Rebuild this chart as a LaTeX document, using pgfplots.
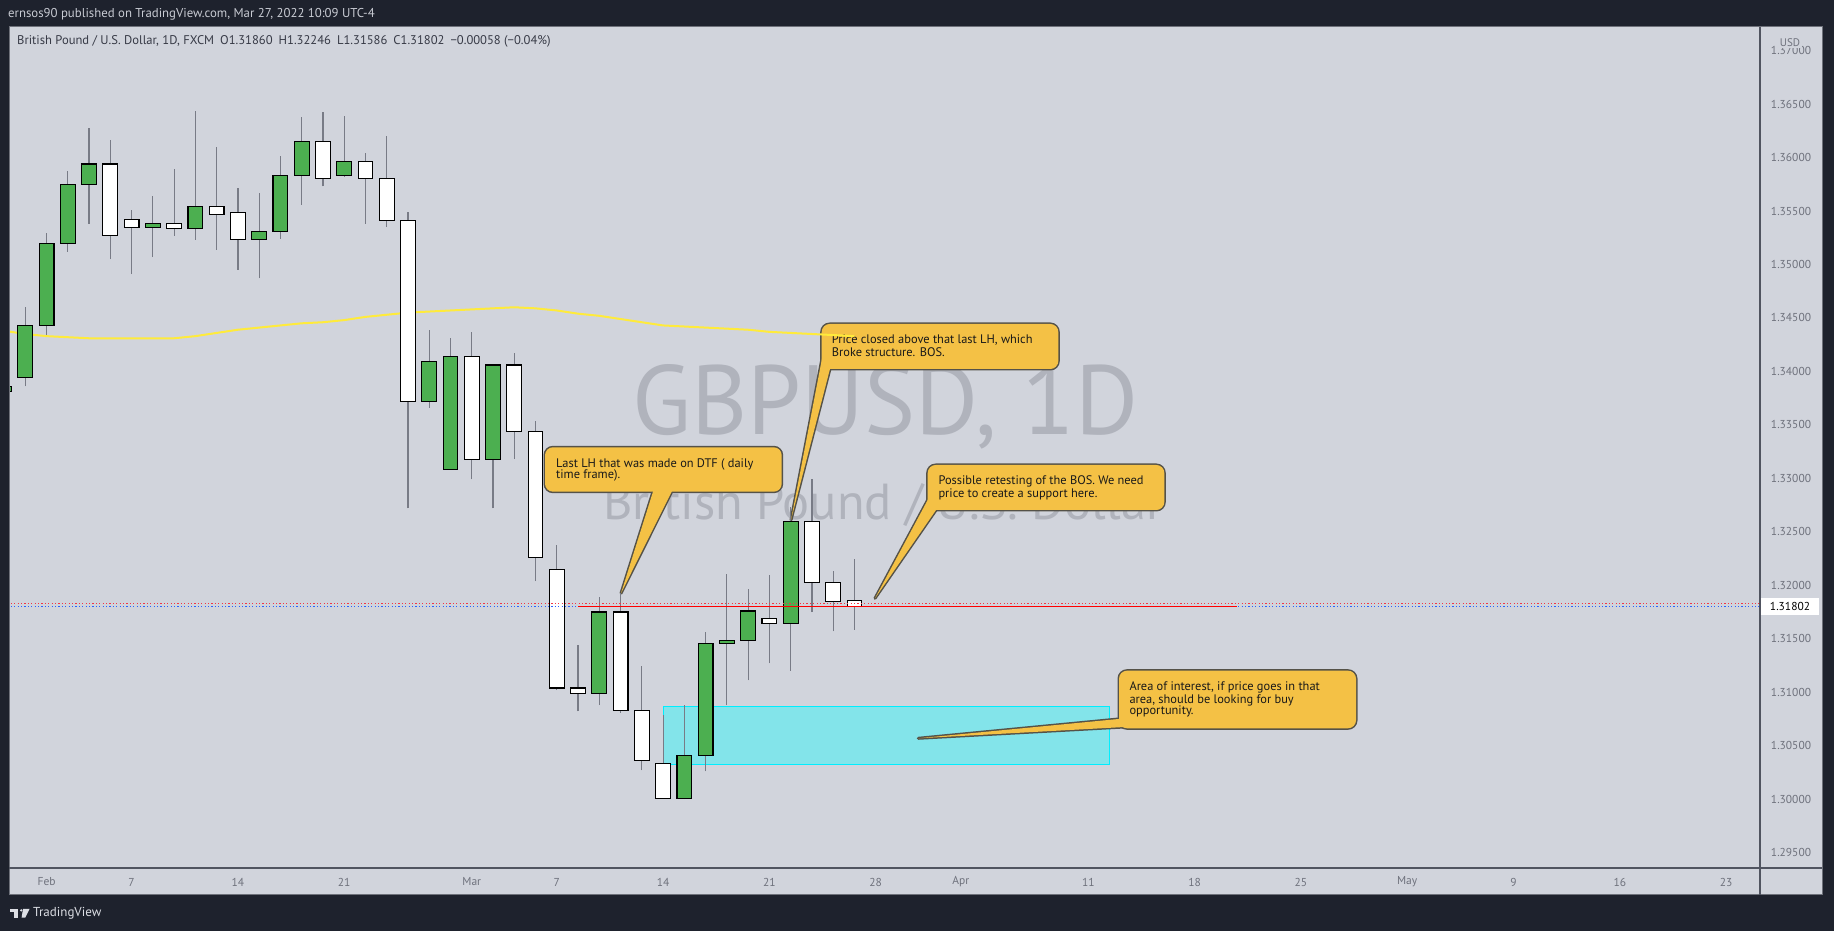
\documentclass[border=0pt]{standalone}
\usepackage{fontspec}
\setmainfont{PT Sans}
\usepackage{graphicx}
\usepackage{pgfplots}
\pgfplotsset{compat=1.18}
\usepackage{pgfplotstable}

\definecolor{darkbg}{RGB}{30,34,45}
\definecolor{panelbg}{RGB}{209,212,220}
\definecolor{sepline}{RGB}{80,84,96}
\definecolor{frameline}{RGB}{110,113,122}
\definecolor{logoc}{RGB}{220,222,228}
\definecolor{wickc}{RGB}{120,123,134}
\definecolor{bull}{RGB}{76,175,80}
\definecolor{maline}{RGB}{255,235,59}
\definecolor{zonefill}{RGB}{131,228,234}
\definecolor{zoneline}{RGB}{0,238,255}
\definecolor{callfill}{RGB}{244,193,69}
\definecolor{callline}{RGB}{85,82,72}
\definecolor{wmark}{RGB}{176,179,188}
\definecolor{labgray}{RGB}{110,113,124}
\definecolor{hdrdark}{RGB}{55,58,70}
\definecolor{hdrlight}{RGB}{200,203,211}
\definecolor{tvblue}{RGB}{41,98,255}
\definecolor{tvred}{RGB}{242,54,69}
\definecolor{calltext}{RGB}{25,25,25}

\pgfplotstableread{
i O H L C
-1 1.3381 1.3395 1.3375 1.3386
0 1.3394 1.3460 1.3386 1.3443
1 1.3443 1.3529 1.3434 1.3520
2 1.3520 1.3587 1.3512 1.3575
3 1.3575 1.3628 1.3538 1.3594
4 1.3594 1.3616 1.3505 1.3527
5 1.3542 1.3551 1.3491 1.3535
6 1.3535 1.3564 1.3507 1.3538
7 1.3538 1.3589 1.3527 1.3534
8 1.3534 1.3644 1.3523 1.3554
9 1.3554 1.3610 1.3514 1.3547
10 1.3549 1.3572 1.3495 1.3523
11 1.3523 1.3567 1.3487 1.3531
12 1.3531 1.3601 1.3524 1.3583
13 1.3583 1.3638 1.3556 1.3615
14 1.3615 1.3643 1.3573 1.3580
15 1.3583 1.3639 1.3582 1.3596
16 1.3596 1.3604 1.3538 1.3580
17 1.3580 1.3620 1.3535 1.3541
18 1.3541 1.3549 1.3272 1.3372
19 1.3372 1.3439 1.3366 1.3409
20 1.3308 1.3431 1.3308 1.3414
21 1.3414 1.3437 1.3299 1.3318
22 1.3318 1.3407 1.3272 1.3406
23 1.3406 1.3417 1.3318 1.3344
24 1.3344 1.3354 1.3204 1.3226
25 1.3215 1.3238 1.3102 1.3104
26 1.3104 1.3144 1.3082 1.3099
27 1.3099 1.3189 1.3088 1.3175
28 1.3175 1.3193 1.3081 1.3083
29 1.3083 1.3125 1.3027 1.3036
30 1.3033 1.3079 1.3001 1.3001
31 1.3001 1.3088 1.3000 1.3041
32 1.3041 1.3156 1.3026 1.3146
33 1.3146 1.3211 1.3088 1.3148
34 1.3148 1.3197 1.3111 1.3176
35 1.3169 1.3210 1.3127 1.3164
36 1.3164 1.3273 1.3120 1.3260
37 1.3260 1.3299 1.3175 1.3203
38 1.3203 1.3213 1.3157 1.3185
39 1.3186 1.32246 1.31586 1.31802
}\candles

\pgfplotstableread{
i MA
-1 1.3438
0 1.3435
1 1.3433
2 1.3432
3 1.3431
4 1.3431
5 1.3431
6 1.3431
7 1.3431
8 1.3433
9 1.3436
10 1.3439
11 1.3441
12 1.3443
13 1.3445
14 1.3446
15 1.3448
16 1.3451
17 1.3453
18 1.3455
19 1.3456
20 1.3457
21 1.3458
22 1.3459
23 1.3460
24 1.3459
25 1.3457
26 1.3454
27 1.3452
28 1.3449
29 1.3446
30 1.3443
31 1.3442
32 1.3441
33 1.3440
34 1.3439
35 1.3437
36 1.3436
37 1.3435
38 1.3434
39 1.3433
}\matable

\pgfplotsset{chartgeom/.style={at={(10pt,63pt)}, anchor=south west,
  width=1750pt, height=841pt, scale only axis,
  xmin=-0.7197, xmax=81.594, ymin=1.2935645, ymax=1.3722099}}

\newcommand{\callout}[5]{%
  \draw[callline, line width=3pt, rounded corners=8pt] (#1,#2) rectangle (#3,#4);
  \draw[callline, line width=3pt, line join=round] #5 -- cycle;
  \fill[callfill, rounded corners=8pt] (#1,#2) rectangle (#3,#4);
  \fill[callfill] #5 -- cycle;
}
\newcommand{\cfont}{\fontsize{12.4}{12.5}\selectfont}

\begin{document}
\begin{tikzpicture}[x=1pt,y=1pt]
\useasboundingbox (0,0) rectangle (1834,931);
\fill[darkbg] (0,0) rectangle (1834,931);
\fill[panelbg] (9,36) rectangle (1822,904);

% watermark
\node[anchor=base west, inner sep=0, text=wmark] at (632,496)
  {\resizebox{506pt}{70pt}{\fontsize{80}{80}\selectfont GBPUSD, 1D}};
\node[anchor=base west, inner sep=0, text=wmark] at (603,411)
  {\resizebox{560pt}{36pt}{\fontsize{40}{40}\selectfont British Pound / U.S. Dollar}};

% area of interest
\begin{axis}[chartgeom, hide axis]
\addplot[fill=zonefill, draw=zoneline, line width=1.2pt]
  coordinates {(30,1.30326) (51,1.30326) (51,1.30869) (30,1.30869)} -- cycle;
\end{axis}

% callouts
\callout{545}{439.3}{781.7}{483.7}{(621,337.7) -- (655.1,446) -- (675,446)}
\callout{821.7}{562}{1058.3}{607}{(791,411) -- (824.4,585) -- (845,585) -- (845,568) -- (831.5,568)}
\callout{927.7}{421}{1164.3}{466}{(875,332.7) -- (932.5,440) -- (955,440) -- (955,428) -- (940.9,428)}
\callout{1119}{202.7}{1356}{260.3}{(918.3,192.7) -- (1130,213.1) -- (1130,204.3)}

\begin{scope}[every node/.style={anchor=base west, inner sep=0, text=calltext, font=\cfont}]
\node at (556,463.7) {Last LH that was made on DTF ( daily};
\node at (556,452) {time frame).};
\node at (831.7,587) {Price closed above that last LH, which};
\node at (831.7,574.7) {Broke structure. BOS.};
\node at (938.3,446) {Possible retesting of the BOS. We need};
\node at (938.3,433.7) {price to create a support here.};
\node at (1129.3,240.3) {Area of interest, if price goes in that};
\node at (1129.3,227.7) {area, should be looking for buy};
\node at (1129.3,216) {opportunity.};
\end{scope}

% moving average and wicks
\begin{axis}[chartgeom, hide axis]
\addplot[maline, line width=2pt] table[x=i, y=MA] {\matable};
\addplot[draw=none, mark=none,
  error bars/.cd, y dir=plus, y explicit, error mark=none,
  error bar style={draw=wickc, line width=1.2pt}]
  table[x=i, y=L, y error expr=\thisrow{H}-\thisrow{L}] {\candles};
\end{axis}

% bodies
\begin{axis}[chartgeom, hide axis, ybar stacked, bar width=14.8pt]
\addplot[draw=none, fill=none] table[x=i, y expr={min(\thisrow{O},\thisrow{C})}] {\candles};
\addplot[fill=bull, draw=black, line width=1.1pt] table[x=i, y expr={max(\thisrow{C}-\thisrow{O},0)}] {\candles};
\addplot[fill=white, draw=black, line width=1.1pt] table[x=i, y expr={max(\thisrow{O}-\thisrow{C},0)}] {\candles};
\end{axis}

% lines, ticks
\begin{axis}[chartgeom,
  axis line style={draw=none}, major tick length=0pt,
  /pgf/number format/assume math mode=true,
  xtick={1,5,10,15,21,25,30,35,40,44,50,55,60,65,70,75,80},
  xticklabels={Feb,7,14,21,Mar,7,14,21,28,Apr,11,18,25,May,9,16,23},
  ytick={1.295,1.3,1.305,1.31,1.315,1.32,1.325,1.33,1.335,1.34,1.345,1.35,1.355,1.36,1.365,1.37},
  yticklabel pos=right,
  ticklabel style={font=\fontsize{11.5}{12}\selectfont, text=labgray},
  xticklabel style={anchor=center, yshift=-14pt},
  yticklabel style={/pgf/number format/fixed, /pgf/number format/fixed zerofill,
     /pgf/number format/precision=5, anchor=center, xshift=31pt},
  ]
\addplot[tvred, line width=0.9pt, dash pattern=on 1.2pt off 2.2pt] coordinates {(-1,1.31832) (82,1.31832)};
\addplot[tvblue, line width=0.9pt, dash pattern=on 1.2pt off 2.2pt] coordinates {(-1,1.31802) (82,1.31802)};
\addplot[red, line width=1.6pt] coordinates {(26,1.3180) (57,1.3180)};
\end{axis}

% frame and separators
\draw[frameline, line width=1pt] (9,36) rectangle (1822,904);
\draw[sepline, line width=1.5pt] (1760,36) -- (1760,904);
\draw[sepline, line width=1.5pt] (9,63) -- (1822,63);

% current price label
\fill[white] (1760.8,316) rectangle (1819,333);
\node[inner sep=0, text=black, font=\fontsize{11.5}{12}\selectfont] at (1790,324.5) {1.31802};
\node[fill=panelbg, inner sep=1.5pt, text=labgray, font=\fontsize{11}{12}\selectfont] at (1790,888) {USD};

% headers
\node[anchor=west, inner sep=0, text=hdrlight, font=\fontsize{12.8}{14}\selectfont] at (8,917)
  {ernsos90 published on TradingView.com, Mar 27, 2022 10:09 UTC-4};
\node[anchor=west, inner sep=0, text=hdrdark, font=\fontsize{12.6}{14}\selectfont] at (17,890)
  {British Pound / U.S. Dollar, 1D, FXCM\hspace{6pt}O1.31860\hspace{6pt}H1.32246\hspace{6pt}L1.31586\hspace{6pt}C1.31802\hspace{6pt}−0.00058 (−0.04\%)};

% TradingView logo
\fill[logoc] (10,19.3) rectangle (18.3,22);
\fill[logoc] (14.3,13.3) rectangle (18.3,22);
\fill[logoc] (21.2,20.6) circle (1.3);
\fill[logoc] (23,22) -- (29.5,22) -- (25.2,13.3) -- (21.6,13.3) -- cycle;
\node[anchor=west, inner sep=0, text=logoc, font=\fontsize{13}{14}\selectfont] at (33,17.5) {TradingView};
\end{tikzpicture}
\end{document}
